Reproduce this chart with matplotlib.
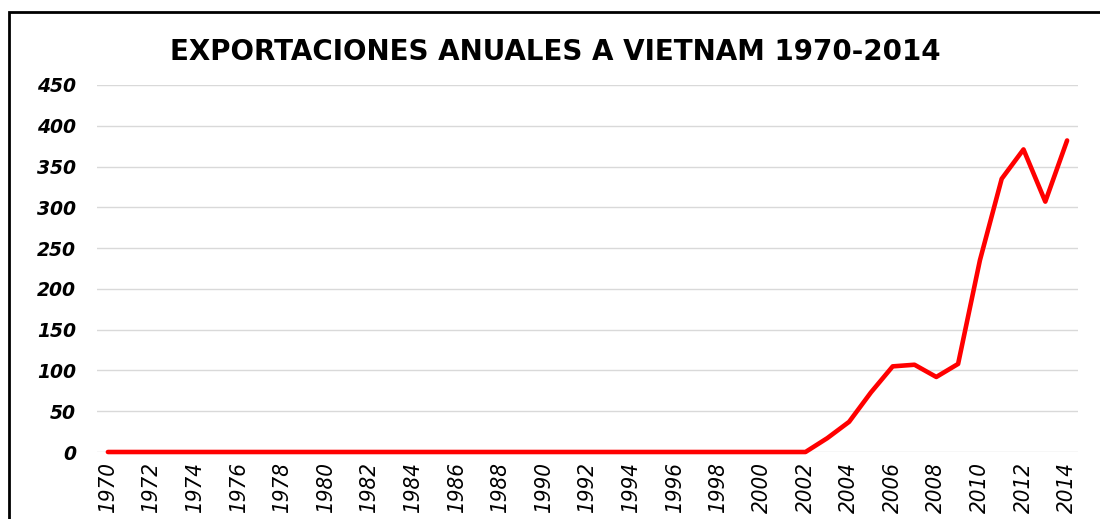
import matplotlib
matplotlib.use("Agg")
import matplotlib.pyplot as plt
from matplotlib import font_manager
from matplotlib.patches import Rectangle

years = list(range(1970, 2015))
values = [0] * 33 + [17, 37, 73, 105, 107, 92, 108, 235, 335, 371, 307, 382]
yticks = [0, 50, 100, 150, 200, 250, 300, 350, 400, 450]
xticks = list(range(1970, 2015, 2))
title = "EXPORTACIONES ANUALES A VIETNAM 1970-2014"

cond = [f for f in font_manager.fontManager.ttflist
        if "condensed" in f.fname.lower() and "dejavusans" in f.fname.lower().replace("-", "")
        and "oblique" in f.fname.lower() and "bold" not in f.fname.lower()]
if cond:
    xfont = font_manager.FontProperties(fname=cond[0].fname, size=16)
else:
    xfont = font_manager.FontProperties(family="DejaVu Sans", style="italic", size=13.5)

fig = plt.figure(figsize=(11, 5.19), dpi=100)
ax = fig.add_axes([97/1100, 1-452/519, (1078-97)/1100, (452-85)/519])

ax.plot(years, values, color="#ff0000", lw=3.3, solid_joinstyle="round",
        solid_capstyle="round", zorder=3, clip_on=False)
ax.set_xlim(1969.5, 2014.5)
ax.set_ylim(0, 450)
ax.set_yticks(yticks)
ax.set_xticks(xticks)
ax.set_xticklabels([str(x) for x in xticks], rotation=90, fontproperties=xfont)
ax.set_yticklabels([str(y) for y in yticks], fontfamily="DejaVu Sans", fontsize=13.5,
                   fontweight="bold", style="italic")
ax.tick_params(axis="both", length=0)
ax.tick_params(axis="y", pad=15)
ax.tick_params(axis="x", pad=7)
ax.grid(axis="y", color="#d9d9d9", lw=1)
ax.set_axisbelow(True)
for s in ax.spines.values():
    s.set_visible(False)

fig.text(555/1100, 1-52/519, title, ha="center", va="center", fontsize=20,
         fontweight="bold", fontfamily="DejaVu Sans")

fig.patches.append(Rectangle((9/1100, -0.05), 1.2, 1-12/519+0.05, transform=fig.transFigure,
                             fill=False, edgecolor="black", lw=2, figure=fig))

fig.savefig("out.png", dpi=100)
